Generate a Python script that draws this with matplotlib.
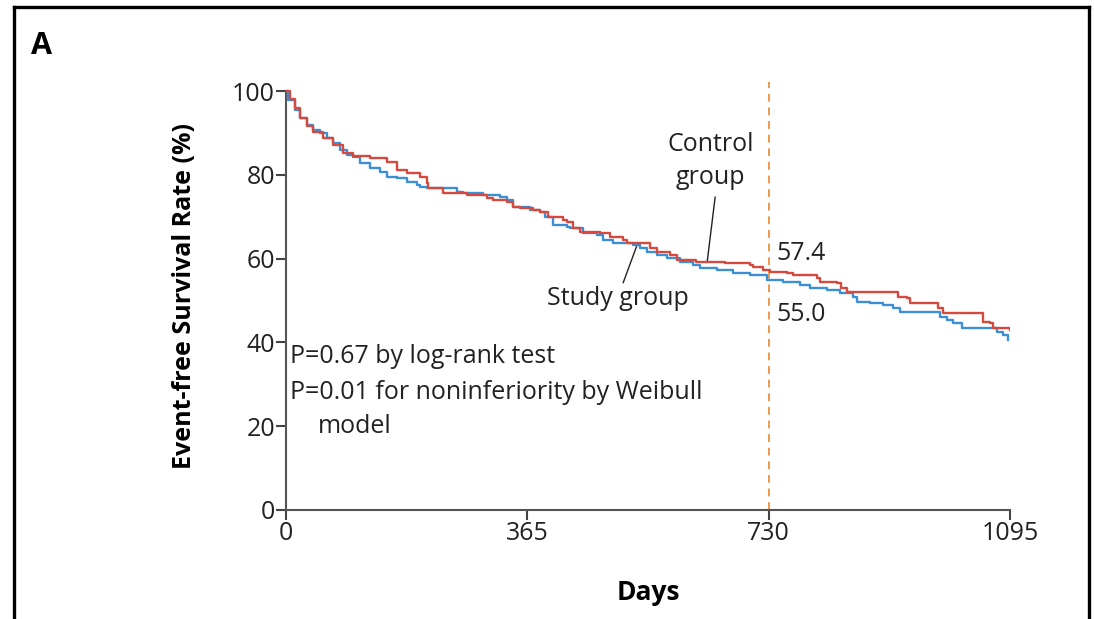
import matplotlib.pyplot as plt
from matplotlib.lines import Line2D

plt.rcParams['font.family'] = ['Open Sans', 'DejaVu Sans']

# control group (red) Kaplan-Meier steps
ctrl_days = [0, 6, 14, 21, 32, 41, 56, 71, 86, 101, 127, 153, 168, 183, 203, 213,
             215, 237, 274, 304, 313, 334, 343, 354, 374, 384, 396, 419, 425, 434,
             445, 475, 490, 510, 516, 551, 561, 581, 591, 620, 664, 702, 706, 721,
             732, 758, 767, 803, 808, 833, 840, 848, 924, 926, 939, 944, 982, 986,
             994, 1053, 1054, 1065, 1069, 1095]
ctrl_pct = [100, 98.2, 95.9, 93.7, 91.8, 90.2, 88.8, 87.1, 85.2, 84.5, 84.0, 83.1,
            81.1, 80.4, 79.5, 78.0, 76.8, 75.7, 75.2, 74.5, 74.0, 73.5, 72.3, 72.1,
            71.6, 71.1, 69.9, 69.2, 68.7, 67.3, 66.3, 66.1, 65.2, 64.5, 63.7, 62.5,
            61.6, 60.9, 59.7, 59.2, 58.9, 58.5, 58.0, 57.4, 56.8, 56.6, 56.1, 55.4,
            54.4, 54.2, 53.0, 52.0, 52.0, 50.8, 50.6, 49.4, 49.4, 48.2, 47.0, 47.0,
            44.9, 44.6, 43.4, 43.0]

# study group (blue)
study_days = [0, 3, 14, 21, 32, 41, 51, 62, 71, 82, 92, 101, 112, 127, 142, 153,
              168, 183, 198, 203, 213, 248, 259, 268, 298, 324, 334, 343, 369, 384,
              392, 404, 425, 430, 449, 470, 479, 495, 525, 535, 546, 561, 576, 596,
              616, 626, 652, 676, 702, 727, 752, 777, 792, 818, 838, 858, 864, 883,
              903, 918, 929, 985, 989, 1000, 1009, 1022, 1065, 1075, 1084, 1092]
study_pct = [100, 97.9, 95.5, 93.6, 91.9, 90.7, 90.0, 88.8, 87.6, 85.9, 84.7, 84.2,
             82.8, 81.6, 80.7, 79.5, 79.2, 78.3, 77.6, 77.1, 76.8, 76.8, 75.9, 75.7,
             75.2, 74.7, 74.0, 72.3, 71.6, 71.1, 69.9, 68.0, 67.5, 67.3, 66.1, 65.6,
             64.4, 63.7, 63.2, 62.5, 61.6, 60.9, 60.1, 59.2, 58.5, 57.8, 57.3, 56.6,
             56.1, 55.0, 54.4, 53.7, 53.0, 52.5, 51.8, 50.8, 49.6, 49.4, 48.9, 48.2,
             47.3, 47.3, 46.1, 45.3, 44.6, 43.4, 43.4, 42.5, 41.8, 40.6]

x_ticks = [0, 365, 730, 1095]
y_ticks = [0, 20, 40, 60, 80, 100]

fig = plt.figure(figsize=(10.95, 6.19), dpi=100)
ax = fig.add_axes([0.2612, 0.1761, 0.6612, 0.6914])

ax.step(study_days, study_pct, where='post', color='#3b8fd2', lw=1.7, zorder=3)
ax.step(ctrl_days, ctrl_pct, where='post', color='#d5493f', lw=1.7, zorder=4)
ax.plot([730, 730], [0, 102.2], ls=(0, (4, 3)), color='#ec9a4c', lw=1.4,
        clip_on=False, zorder=2)

ax.set_xlim(0, 1095)
ax.set_ylim(0, 102.2)
ax.set_xticks(x_ticks)
ax.set_yticks(y_ticks)
ax.spines['top'].set_visible(False)
ax.spines['right'].set_visible(False)
for s in ['left', 'bottom']:
    ax.spines[s].set_color('#555555')
    ax.spines[s].set_linewidth(1.5)
ax.spines['left'].set_bounds(0, 100)
ax.tick_params(direction='out', length=7, width=1.5, color='#444444',
               labelsize=18, labelcolor='#222222', pad=1)

ax.set_xlabel('Days', fontsize=19, fontweight='bold', labelpad=24)
ax.set_ylabel('Event-free Survival Rate (%)', fontsize=18, fontweight='bold',
              labelpad=25)

ax.text(642, 83.3, 'Control\ngroup', fontsize=18, ha='center', va='center',
        linespacing=1.4, color='#222222')
ax.plot([649, 637], [74.7, 59.3], color='#222222', lw=1.0)
ax.text(502, 50.5, 'Study group', fontsize=18, ha='center', va='center',
        color='#222222')
ax.plot([510, 531], [54.3, 63.3], color='#222222', lw=1.0)
ax.text(742, 61.3, '57.4', fontsize=18, ha='left', va='center', color='#222222')
ax.text(742, 46.6, '55.0', fontsize=18, ha='left', va='center', color='#222222')

ax.text(6, 36.6, 'P=0.67 by log-rank test', fontsize=18, ha='left',
        va='center', color='#222222')
ax.text(6, 28.0, 'P=0.01 for noninferiority by Weibull', fontsize=18,
        ha='left', va='center', color='#222222')
ax.text(48, 20.0, 'model', fontsize=18, ha='left', va='center', color='#222222')

fig.text(0.028, 0.925, 'A', fontsize=22, fontweight='bold', ha='left',
         va='center')

# outer frame
fig.add_artist(Line2D([0.0128, 0.0128], [-0.01, 0.9887], color='black', lw=2.4))
fig.add_artist(Line2D([0.0128, 0.9945], [0.9887, 0.9887], color='black', lw=2.4))
fig.add_artist(Line2D([0.9945, 0.9945], [-0.01, 0.9887], color='black', lw=2.4))

fig.savefig('out.png', dpi=100)
